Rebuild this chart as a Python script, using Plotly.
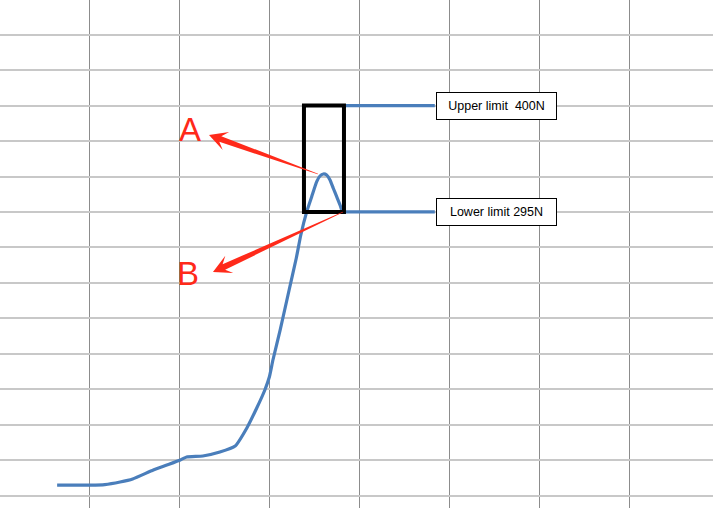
import plotly.graph_objects as go

# force curve (x in grid units, y in N)
tiempo = [0.64, 1.01, 1.17, 1.34, 1.48, 1.71, 1.86, 2.01, 2.08, 2.26, 2.45, 2.62,
          2.75, 2.86, 2.95, 3.00, 3.04, 3.12, 3.22, 3.30, 3.35, 3.416, 3.471, 3.527,
          3.563, 3.600, 3.638, 3.675, 3.711, 3.749, 3.786, 3.811]
fuerza = [25.5, 25.5, 26, 28.5, 31.5, 40.4, 45.3, 50.3, 53.2, 54.2, 58.1, 64,
          81.8, 101.5, 119.3, 132.1, 148.9, 178.5, 218, 249.6, 272.3, 295.3, 310.1, 324.9,
          330.5, 332.5, 331.5, 326.6, 318.4, 310.1, 301.9, 295.3]

limite_sup = 400
limite_inf = 295
limite_x = [3.85, 4.84]
etiquetas = ['Upper limit &nbsp;400N', 'Lower limit 295N']

W, H = 713, 508
XR = [0.0047, 7.934]
YR = [2.85, 504.2]

AZUL = '#4a7ebb'
ROJO = '#ff2a1a'


def a_px(x, y):
    return ((x - XR[0]) / (XR[1] - XR[0]) * W, (YR[1] - y) / (YR[1] - YR[0]) * H)


def a_dato(px, py):
    return (XR[0] + px / W * (XR[1] - XR[0]), YR[1] - py / H * (YR[1] - YR[0]))


def flecha(cola, punta, w0=0.3, wc=3.0, lc=12, wb=9.5, lb=18):
    # tapered arrow drawn as a filled polygon
    tx, ty = a_px(*cola)
    hx, hy = a_px(*punta)
    dx, dy = hx - tx, hy - ty
    n = (dx ** 2 + dy ** 2) ** 0.5
    ux, uy = dx / n, dy / n
    nx, ny = -uy, ux
    pts = [
        (tx + nx * w0, ty + ny * w0),
        (hx - ux * lc + nx * wc, hy - uy * lc + ny * wc),
        (hx - ux * lb + nx * wb, hy - uy * lb + ny * wb),
        (hx, hy),
        (hx - ux * lb - nx * wb, hy - uy * lb - ny * wb),
        (hx - ux * lc - nx * wc, hy - uy * lc - ny * wc),
        (tx - nx * w0, ty - ny * w0),
    ]
    pts = [a_dato(*p) for p in pts]
    return 'M ' + ' L '.join(f'{x},{y}' for x, y in pts) + ' Z'


fig = go.Figure()
fig.add_trace(go.Scatter(x=tiempo, y=fuerza, mode='lines',
                         line=dict(color=AZUL, width=3.2, shape='spline', smoothing=0.5)))
for lim in [limite_sup, limite_inf]:
    fig.add_trace(go.Scatter(x=limite_x, y=[lim, lim], mode='lines',
                             line=dict(color=AZUL, width=3.2)))

fig.add_shape(type='rect', x0=3.385, x1=3.83, y0=limite_inf, y1=limite_sup,
              line=dict(color='black', width=4))
fig.add_shape(type='path', path=flecha((3.54, 332.5), (2.329, 371)),
              fillcolor=ROJO, line=dict(width=0))
fig.add_shape(type='path', path=flecha((3.819, 295), (2.373, 235.8)),
              fillcolor=ROJO, line=dict(width=0))

for txt, lim in zip(etiquetas, [limite_sup, limite_inf]):
    fig.add_annotation(x=5.521, y=lim, text=txt, showarrow=False,
                       xanchor='center', yanchor='middle',
                       width=119, height=26, borderpad=0, borderwidth=1,
                       bordercolor='black', bgcolor='white',
                       font=dict(family='Liberation Sans, Arial', size=12.5, color='black'))

fig.add_annotation(x=2.123, y=376.4, text='A', showarrow=False,
                   font=dict(family='Liberation Sans, Arial', size=33, color=ROJO))
fig.add_annotation(x=2.095, y=234.3, text='B', showarrow=False,
                   font=dict(family='Liberation Sans, Arial', size=33, color=ROJO))

fig.update_layout(
    width=W, height=H,
    margin=dict(l=0, r=0, t=0, b=0),
    paper_bgcolor='white', plot_bgcolor='white',
    showlegend=False,
    xaxis=dict(range=XR, tick0=0, dtick=1, showticklabels=False, zeroline=False,
               showgrid=True, gridcolor='#8c8c8c', gridwidth=1),
    yaxis=dict(range=YR, tick0=295, dtick=35, showticklabels=False, zeroline=False,
               showgrid=True, gridcolor='#c8c8c8', gridwidth=1.5),
)

# quitar el margen del body para que el grafico ocupe toda la ventana
fig.write_html('out.html', config={'displayModeBar': False},
               post_script="document.body.style.margin='0';")
